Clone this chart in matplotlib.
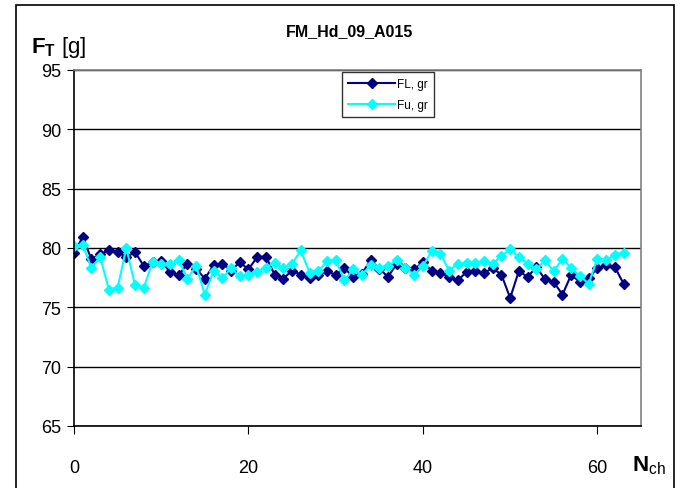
import matplotlib
matplotlib.use('Agg')
import matplotlib.pyplot as plt
from matplotlib.patches import Rectangle
import numpy as np

plt.rcParams['font.family'] = ['Liberation Sans', 'DejaVu Sans']
plt.rcParams['mathtext.fontset'] = 'custom'
plt.rcParams['mathtext.rm'] = 'Liberation Sans'
plt.rcParams['mathtext.bf'] = 'Liberation Sans:bold'

######################### Data #########################

title = 'FM_Hd_09_A015'
n_ch = np.arange(64)

fl_gr = [79.55, 80.93, 79.04, 79.5, 79.8, 79.66, 79.24, 79.66, 78.48, 78.8,
         78.88, 77.98, 77.7, 78.68, 78.26, 77.42, 78.54, 78.68, 78.1, 78.8,
         78.2, 79.24, 79.28, 77.75, 77.42, 78.1, 77.75, 77.47, 77.75, 78.03,
         77.75, 78.3, 77.56, 77.84, 78.96, 78.26, 77.56, 78.68, 78.3, 78.2,
         78.8, 78.1, 77.92, 77.52, 77.28, 77.98, 78.03, 77.9, 78.3, 77.75,
         75.79, 78.06, 77.56, 78.4, 77.36, 77.13, 76.07, 77.75, 77.13, 77.47,
         78.3, 78.54, 78.4, 76.99]

fu_gr = [80.17, 80.28, 78.3, 79.24, 76.5, 76.66, 80.0, 76.85, 76.66, 78.8,
         78.68, 78.68, 78.96, 77.42, 78.48, 76.07, 78.1, 77.47, 78.3, 77.64,
         77.75, 77.98, 78.35, 78.76, 78.3, 78.68, 79.8, 77.92, 78.03, 78.88,
         78.96, 77.28, 78.2, 77.75, 78.54, 78.3, 78.48, 78.96, 78.3, 77.75,
         78.48, 79.72, 79.52, 78.1, 78.68, 78.7, 78.76, 78.88, 78.68, 79.33,
         79.89, 79.24, 78.68, 78.2, 78.96, 78.03, 79.1, 78.3, 77.64, 76.99,
         79.1, 78.96, 79.44, 79.61]

y_ticks = [65, 70, 75, 80, 85, 90, 95]
x_ticks = [0, 20, 40, 60]

######################### Plotting #########################

fig = plt.figure(figsize=(6.81, 4.89), dpi=100)
ax = fig.add_axes([74/681, 1-427/489, (641-74)/681, (427-71)/489])

ax.plot(n_ch, fl_gr, color='#000080', marker='D', markersize=5, lw=1.5, label='FL, gr')
ax.plot(n_ch, fu_gr, color='#00FFFF', marker='D', markersize=5, lw=1.5, label='Fu, gr')

ax.set_xlim(0, 65)
ax.set_ylim(65, 95)
ax.set_xticks(x_ticks)
ax.set_yticks(y_ticks)
ax.tick_params(axis='x', direction='out', length=6, pad=18, labelsize=13)
ax.tick_params(axis='y', direction='out', length=5, pad=4, labelsize=13)
ax.yaxis.grid(True, color='black', lw=1)
ax.set_axisbelow(True)

ax.spines['top'].set_color('#808080')
ax.spines['right'].set_color('#808080')
ax.spines['left'].set_color('black')
ax.spines['bottom'].set_color('black')
for s in ax.spines.values():
    s.set_linewidth(1.2)

leg = ax.legend(loc='upper left', bbox_to_anchor=((342-74)/567, 1-(73-71)/356),
                borderaxespad=0, frameon=True, fancybox=False, edgecolor='black',
                fontsize=8.5, handlelength=4.0, borderpad=0.5, labelspacing=0.8,
                handletextpad=0.2)
leg.get_frame().set_linewidth(1)

fig.text(350/681, 1-32/489, title, ha='center', va='center', fontsize=11.5, fontweight='bold')
fig.text(31/681, 1-47/489, r'$\mathbf{F}_{\mathbf{T}}$ [g]', ha='left', va='center', fontsize=16)
fig.text(632/681, 1-466/489, r'$\mathbf{N}_{\mathrm{ch}}$', ha='left', va='center', fontsize=16)

fig.patches.append(Rectangle((16/681, -0.01), (674-16)/681, 1-6/489+0.01,
                             transform=fig.transFigure, fill=False,
                             edgecolor='black', lw=1.2))

fig.savefig('out.png', dpi=100)
